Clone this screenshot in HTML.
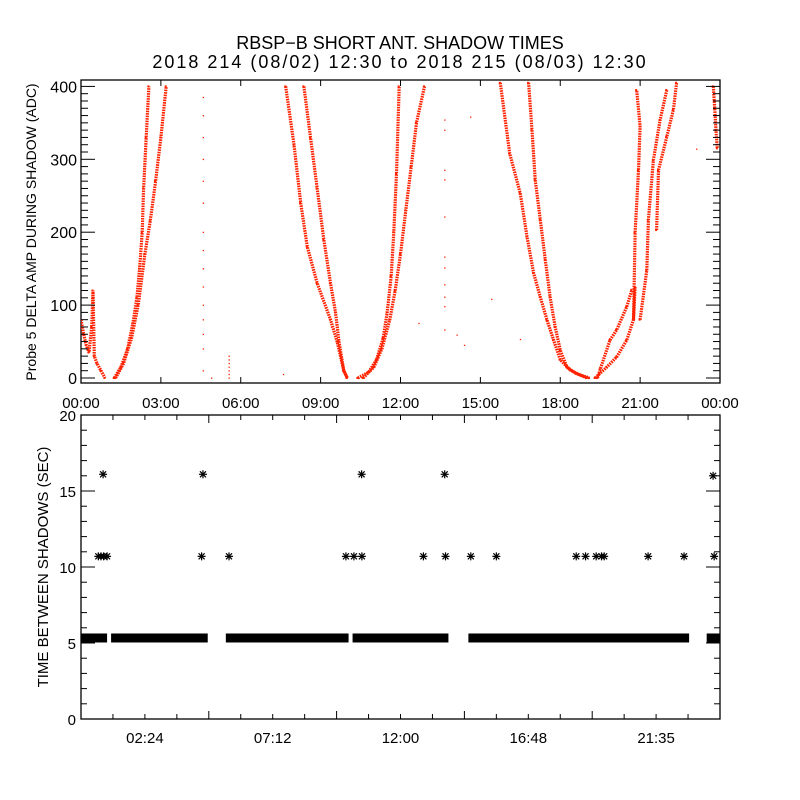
<!DOCTYPE html>
<html><head><meta charset="utf-8"><style>
html,body{margin:0;padding:0;background:#fff;}
svg{display:block;font-family:"Liberation Sans",sans-serif;}
</style></head><body>
<svg id="c" width="800" height="800" viewBox="0 0 800 800">
<text x="400" y="49" text-anchor="middle" font-size="18">RBSP−B SHORT ANT. SHADOW TIMES</text>
<text x="400" y="68" text-anchor="middle" font-size="18" letter-spacing="2">2018 214 (08/02) 12:30 to 2018 215 (08/03) 12:30</text>
<g id="topPanel"></g>
<g id="botPanel"></g>
</svg>
<script>
// ---------- DATA ----------
const branchA  = [[0,80],[0.1,60],[0.2,45],[0.3,35],[0.4,70],[0.45,120],[0.5,30],[0.6,20],[0.75,10],[0.9,0]];
const branchB1 = [[1.25,0],[1.5,15],[1.75,40],[1.95,75],[2.1,110],[2.2,150],[2.3,200],[2.35,260],[2.45,330],[2.55,400]];
const branchB2 = [[1.3,0],[1.6,20],[1.9,55],[2.15,100],[2.4,170],[2.6,215],[2.8,270],[3.0,330],[3.2,400]];
const branchC1 = [[7.69,400],[8.0,320],[8.25,240],[8.5,180],[8.87,130],[9.37,80],[9.62,50],[9.87,10],[10.0,0]];
const branchC2 = [[8.37,400],[8.62,330],[8.87,260],[9.12,190],[9.37,130],[9.56,90],[9.69,50],[9.87,10],[10.0,0]];
const branchD1 = [[10.4,0],[10.8,8],[11.1,25],[11.35,55],[11.5,90],[11.65,140],[11.75,200],[11.85,280],[11.95,400]];
const branchD2 = [[10.6,0],[11.0,15],[11.3,40],[11.6,80],[11.8,120],[12.0,170],[12.2,230],[12.4,290],[12.6,350],[12.9,400]];
const branchE1 = [[15.75,405],[16.1,308],[16.5,253],[16.75,194],[17.0,144],[17.25,111],[17.5,80],[17.75,52],[18.0,25],[18.37,11],[18.75,4],[19.0,0]];
const branchE2 = [[16.81,405],[16.94,340],[17.06,272],[17.25,217],[17.44,162],[17.62,111],[17.81,70],[18.0,38],[18.25,15],[18.6,6],[19.1,0]];
const branchF1 = [[19.31,0],[19.75,15],[20.12,29],[20.5,52],[20.75,80],[20.81,125]];
const branchF2 = [[19.4,0],[19.5,12],[19.87,52],[20.12,66],[20.5,98],[20.69,121]];
const branchF3 = [[20.75,80],[20.81,199],[20.94,285],[21.0,345],[20.87,395]];
const branchF4 = [[21.0,80],[21.25,148],[21.31,217],[21.5,299],[21.75,354],[22.0,395]];
const branchF5 = [[21.62,203],[21.69,285],[22.0,331],[22.25,368],[22.37,405]];
const branchG  = [[23.75,400],[23.8,370],[23.85,340],[23.9,315]];
const scatterPts = [[4.59,385],[4.59,360],[4.59,330],[4.59,300],[4.59,270],[4.59,240],[4.59,200],[4.59,175],[4.59,150],[4.59,125],[4.59,100],[4.59,80],[4.59,60],[4.59,40],[4.59,10],[4.9,0],
 [5.56,30],[5.56,25],[5.56,20],[5.56,15],[5.56,10],[5.56,5],[5.56,0],[7.6,5],[9.4,70],
 [13.66,354],[13.66,340],[13.66,285],[13.66,272],[13.66,221],[13.66,166],[13.66,151],[13.66,128],[13.66,111],[13.66,98],[13.66,66],
 [14.63,358],[12.69,75],[15.42,108],[14.12,59],[14.4,45],[16.5,53],[23.12,314]];
const topSeries = [branchA,branchB1,branchB2,branchC1,branchC2,branchD1,branchD2,branchE1,branchE2,branchF1,branchF2,branchF3,branchF4,branchF5,branchG];
const topYTicks = [0,100,200,300,400];
const topXTicks = ["00:00","03:00","06:00","09:00","12:00","15:00","18:00","21:00","00:00"];

const bandStart = [0,1.13,5.44,10.2,14.55,23.5];
const bandEnd   = [0.98,4.76,10.05,13.8,22.84,24];
const bandValue = 5.33;
const tenHours  = [0.65,0.75,0.85,0.98,4.53,5.56,9.95,10.25,10.55,12.86,13.69,14.64,15.6,18.6,18.95,19.35,19.55,19.65,21.3,22.65,23.78];
const tenValues = [10.7,10.7,10.7,10.7,10.7,10.7,10.7,10.7,10.7,10.7,10.7,10.7,10.7,10.7,10.7,10.7,10.7,10.7,10.7,10.7,10.7];
const sixHours  = [0.83,4.58,10.54,13.66,23.74];
const sixValues = [16.1,16.1,16.1,16.1,16];
const botYTicks = [0,5,10,15,20];
const botXTicks = ["02:24","07:12","12:00","16:48","21:35"];

// ---------- SCALES ----------
const X0=81, X1=720;
const xs = h => X0 + h*(X1-X0)/24;
const ty = v => 378 - v*0.729;
const by = v => 719 - v*15.2;
const NS="http://www.w3.org/2000/svg";
function el(tag, attrs, parent){const e=document.createElementNS(NS,tag);for(const k in attrs)e.setAttribute(k,attrs[k]);parent.appendChild(e);return e;}
const topG=document.getElementById('topPanel'), botG=document.getElementById('botPanel');
const RED="#ff2200";

// ---------- TOP PANEL ----------
const tf=el('rect',{x:X0,y:80,width:X1-X0,height:303,fill:'none',stroke:'#000','stroke-width':1.3},topG);


const clip=el('clipPath',{id:'tc'},topG); el('rect',{x:X0,y:80,width:X1-X0,height:303},clip);
const tg=el('g',{'clip-path':'url(#tc)'},topG);
topSeries.forEach((s,i)=>{
  const pl=el('polyline',{points:s.map(p=>xs(p[0]).toFixed(1)+','+ty(p[1]).toFixed(1)).join(' '),fill:'none',stroke:RED,'stroke-width':3.2,'stroke-dasharray':'1.6 0.9'},tg);
  
  
  s.forEach(p=>{el('rect',{x:xs(p[0])-1.5,y:ty(p[1])-1,width:2,height:2,fill:RED},tg);});
});
scatterPts.forEach(p=>{
  const r=el('rect',{x:xs(p[0])-0.5,y:ty(p[1])-0.5,width:1.3,height:1.3,fill:RED},tg);
  
  
});
for(let v=0;v<=400;v+=10){
  const L=(v%100===0)?14:7;
  el('line',{x1:X0,x2:X0+L,y1:ty(v),y2:ty(v),stroke:'#000'},topG);
  el('line',{x1:X1,x2:X1-L,y1:ty(v),y2:ty(v),stroke:'#000'},topG);
}
topYTicks.forEach(v=>{
  const t=el('text',{x:X0-4,y:ty(v)+6,'text-anchor':'end','font-size':16},topG);t.textContent=v;
  
  
});
topXTicks.forEach((s,i)=>{
  const x=xs(i*3);
  el('line',{x1:x,x2:x,y1:383,y2:377,stroke:'#000'},topG);
  el('line',{x1:x,x2:x,y1:80,y2:86,stroke:'#000'},topG);
  const t=el('text',{x:x,y:408,'text-anchor':'middle','font-size':15},topG);t.textContent=s;
  
  
});
const tt=el('text',{x:0,y:0,'text-anchor':'middle','font-size':14,transform:'translate(36,232) rotate(-90)'},topG);
tt.textContent='Probe 5 DELTA AMP DURING SHADOW (ADC)';



// ---------- BOTTOM PANEL ----------
const bf=el('rect',{x:X0,y:415,width:X1-X0,height:304,fill:'none',stroke:'#000','stroke-width':1.3},botG);


for(let v=0;v<=20;v+=1){
  const L=(v%5===0)?14:6;
  el('line',{x1:X0,x2:X0+L,y1:by(v),y2:by(v),stroke:'#000'},botG);
  el('line',{x1:X1,x2:X1-L,y1:by(v),y2:by(v),stroke:'#000'},botG);
}
botYTicks.forEach(v=>{
  const t=el('text',{x:X0-5,y:by(v)+6,'text-anchor':'end','font-size':15},botG);t.textContent=v;
  
  
});
for(let i=0;i<=20;i++){
  const x=xs(i*1.2), L=(i%4===0)?8:5;
  el('line',{x1:x,x2:x,y1:719,y2:719-L,stroke:'#000'},botG);
  el('line',{x1:x,x2:x,y1:415,y2:415+L,stroke:'#000'},botG);
}
botXTicks.forEach((s,i)=>{
  const t=el('text',{x:xs(2.4+i*4.8),y:743,'text-anchor':'middle','font-size':15},botG);t.textContent=s;
  
  
});
bandStart.forEach((s,i)=>{
  const r=el('rect',{x:xs(s),y:by(bandValue)-4.5,width:xs(bandEnd[i])-xs(s),height:9,fill:'#000'},botG);
  
  
});
function star(h,v){
  const g=el('g',{stroke:'#000','stroke-width':1.2},botG);
  const x=xs(h),y=by(v);
  el('line',{x1:x-4,x2:x+4,y1:y,y2:y},g);
  el('line',{x1:x,x2:x,y1:y-4,y2:y+4},g);
  el('line',{x1:x-3,x2:x+3,y1:y-3,y2:y+3},g);
  el('line',{x1:x-3,x2:x+3,y1:y+3,y2:y-3},g);
  
  
}
tenHours.forEach((h,i)=>star(h,tenValues[i]));
sixHours.forEach((h,i)=>star(h,sixValues[i]));
const bt=el('text',{x:0,y:0,'text-anchor':'middle','font-size':15,transform:'translate(48,567) rotate(-90)'},botG);
bt.textContent='TIME BETWEEN SHADOWS (SEC)';


</script>
</body></html>
